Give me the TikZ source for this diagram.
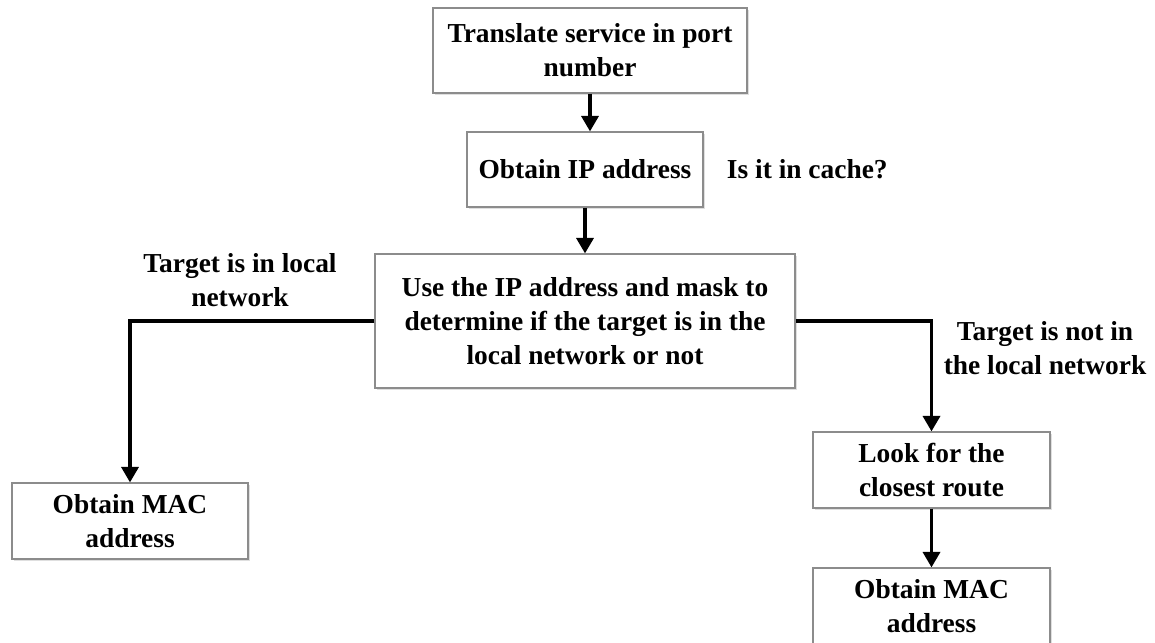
\documentclass[tikz,border=0pt]{standalone}
\usepackage{fontspec}
\setmainfont{Liberation Serif}
\usetikzlibrary{arrows.meta, shadows}
\begin{document}
\begin{tikzpicture}[
		box/.style = {draw = black!45, line width = 0.8pt, fill = white, align = center, inner sep = 2pt, font = \fontsize{19.5}{24}\selectfont\bfseries, drop shadow = {shadow xshift = 1.2pt, shadow yshift = -1.2pt, opacity = 0.25}},
		lbl/.style = {align = center, font = \fontsize{19.5}{24}\selectfont\bfseries},
		flow/.style = {line width = 2.6pt, -{Triangle[width = 12pt, length = 11pt]}}]
		\useasboundingbox (0, 0) rectangle (28.875, -16.05);
		\node[box, minimum width = 7.85cm, minimum height = 2.125cm] (port) at (14.75, -1.2625) {Translate service in port\\number};
		\node[box, minimum width = 5.9cm, minimum height = 1.875cm] (ip) at (14.625, -4.2375) {Obtain IP address};
		\node[lbl, anchor = west] (cache) at (18.05, -4.225) {Is it in cache?};
		\node[box, minimum width = 10.5cm, minimum height = 3.35cm] (mask) at (14.625, -8.025) {Use the IP address and mask to\\determine if the target is in the\\local network or not};
		\node[box, minimum width = 5.9cm, minimum height = 1.9cm] (macl) at (3.25, -13.025) {Obtain MAC\\address};
		\node[box, minimum width = 5.925cm, minimum height = 1.9cm] (route) at (23.2875, -11.75) {Look for the\\closest route};
		\node[box, minimum width = 5.925cm, minimum height = 1.9cm] (macr) at (23.2875, -15.15) {Obtain MAC\\address};
		\node[lbl] (inlocal) at (6.0, -7.0) {Target is in local\\network};
		\node[lbl] (notlocal) at (26.125, -8.7) {Target is not in\\the local network};
		\draw[flow] (port.south) -- (port.south |- ip.north);
		\draw[flow] (ip.south) -- (mask.north);
		\draw[flow] (mask.west) -- (macl.north |- mask.west) -- (macl.north);
		\draw[flow] (mask.east) -- (route.north |- mask.east) -- (route.north);
		\draw[flow] (route.south) -- (macr.north);
	\end{tikzpicture}
\end{document}
